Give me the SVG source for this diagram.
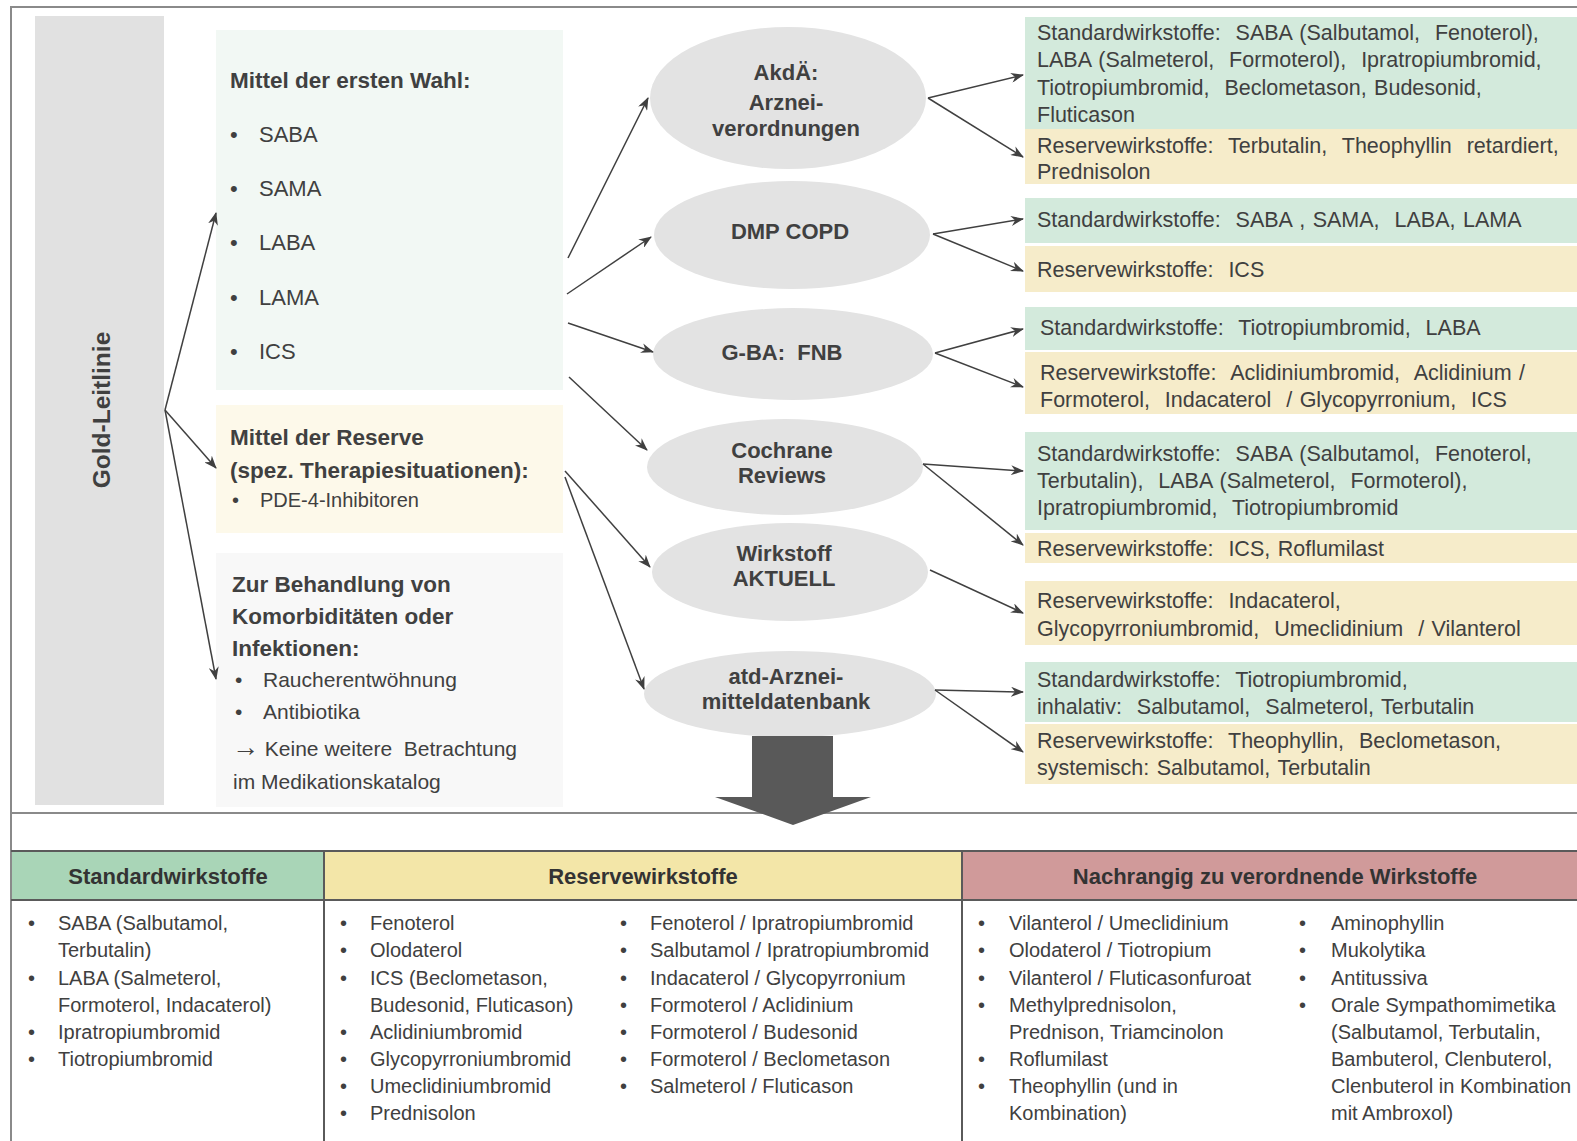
<svg xmlns="http://www.w3.org/2000/svg" width="1577" height="1141" viewBox="0 0 1577 1141">
<style>
text{font-family:"Liberation Sans",Arial,sans-serif;fill:#404040;white-space:pre}
.b{font-weight:bold}
.h22{font-size:22.5px;font-weight:bold}
.e{font-size:22px;font-weight:bold;text-anchor:middle}
.r{font-size:21.5px;word-spacing:1.5px}
.t{font-size:20px}
.hd{font-size:22px;font-weight:bold;text-anchor:middle;fill:#333}
.con{stroke:#404040;stroke-width:1.5;fill:none;marker-end:url(#ah)}
.frame{stroke:#8a8a8a;stroke-width:2;fill:none}
.tl{stroke:#5a5a5a;stroke-width:2;fill:none}
.ell{fill:#e3e3e3}
.gr{fill:#d3eadc}
.ye{fill:#f6ecca}
</style>
<defs>
<marker id="ah" markerWidth="13" markerHeight="10" refX="12" refY="5" orient="auto" markerUnits="userSpaceOnUse">
<path d="M0,0 L13,5 L0,10 L4,5 z" fill="#404040"/>
</marker>
</defs>
<rect width="1577" height="1141" fill="#ffffff"/>
<g id="frame">
<path class="frame" d="M1577,7 L11,7 L11,1141"/>
<path class="frame" d="M11,813 L1577,813"/>
</g>
<g id="gold-leitlinie">
<rect x="35" y="16" width="129" height="789" fill="#e1e1e1"/>
<text class="b" font-size="24.5" text-anchor="middle" transform="translate(110,410) rotate(-90)">Gold-Leitlinie</text>
</g>
<g id="erste-wahl">
<rect x="216" y="30" width="347" height="360" fill="#f2f8f4"/>
<text class="h22" x="230" y="88">Mittel der ersten Wahl:</text>
<g font-size="22">
<text x="230" y="142">•</text><text x="259" y="142">SABA</text>
<text x="230" y="196">•</text><text x="259" y="196">SAMA</text>
<text x="230" y="250">•</text><text x="259" y="250">LABA</text>
<text x="230" y="305">•</text><text x="259" y="305">LAMA</text>
<text x="230" y="359">•</text><text x="259" y="359">ICS</text>
</g>
</g>
<g id="reserve">
<rect x="216" y="405" width="347" height="128" fill="#fdf9ea"/>
<text class="h22" x="230" y="445">Mittel der Reserve</text>
<text class="h22" x="230" y="478">(spez. Therapiesituationen):</text>
<text class="t" x="232" y="507">•</text><text class="t" x="260" y="507">PDE-4-Inhibitoren</text>
</g>
<g id="komorbiditaeten">
<rect x="216" y="553" width="347" height="254" fill="#f8f8f8"/>
<text class="h22" x="232" y="592">Zur Behandlung von</text>
<text class="h22" x="232" y="624">Komorbiditäten oder</text>
<text class="h22" x="232" y="656">Infektionen:</text>
<text font-size="21" x="235" y="687">•</text><text font-size="21" x="263" y="687">Raucherentwöhnung</text>
<text font-size="21" x="235" y="719">•</text><text font-size="21" x="263" y="719">Antibiotika</text>
<text font-size="21" x="232" y="756"><tspan font-size="27">→</tspan> Keine weitere  Betrachtung</text>
<text font-size="21" x="233" y="789">im Medikationskatalog</text>
</g>
<g id="akdae">
<ellipse class="ell" cx="788" cy="98" rx="138" ry="71"/>
<text class="e" x="786" y="80">AkdÄ:</text>
<text class="e" x="786" y="110">Arznei-</text>
<text class="e" x="786" y="136">verordnungen</text>
</g>
<g id="dmp">
<ellipse class="ell" cx="792" cy="235" rx="138" ry="54"/>
<text class="e" x="790" y="239">DMP COPD</text>
</g>
<g id="gba">
<ellipse class="ell" cx="793" cy="354" rx="140" ry="46"/>
<text class="e" x="782" y="360">G-BA:  FNB</text>
</g>
<g id="cochrane">
<ellipse class="ell" cx="785" cy="467" rx="138" ry="48"/>
<text class="e" x="782" y="458">Cochrane</text>
<text class="e" x="782" y="483">Reviews</text>
</g>
<g id="wirkstoff">
<ellipse class="ell" cx="790" cy="572" rx="138" ry="49"/>
<text class="e" x="784" y="561">Wirkstoff</text>
<text class="e" x="784" y="586">AKTUELL</text>
</g>
<g id="atd">
<ellipse class="ell" cx="790" cy="694" rx="146" ry="43"/>
<text class="e" x="786" y="684">atd-Arznei-</text>
<text class="e" x="786" y="709">mitteldatenbank</text>
</g>
<g id="akdae-std">
<rect class="gr" x="1025" y="17" width="552" height="112"/>
<text class="r" x="1037" y="40">Standardwirkstoffe:  SABA (Salbutamol,  Fenoterol),</text>
<text class="r" x="1037" y="67">LABA (Salmeterol,  Formoterol),  Ipratropiumbromid,</text>
<text class="r" x="1037" y="95">Tiotropiumbromid,  Beclometason, Budesonid,</text>
<text class="r" x="1037" y="122">Fluticason</text>
</g>
<g id="akdae-res">
<rect class="ye" x="1025" y="129" width="552" height="55"/>
<text class="r" x="1037" y="153">Reservewirkstoffe:  Terbutalin,  Theophyllin  retardiert,</text>
<text class="r" x="1037" y="179">Prednisolon</text>
</g>
<g id="dmp-std">
<rect class="gr" x="1025" y="198" width="552" height="45"/>
<text class="r" x="1037" y="227">Standardwirkstoffe:  SABA , SAMA,  LABA, LAMA</text>
</g>
<g id="dmp-res">
<rect class="ye" x="1025" y="246" width="552" height="46"/>
<text class="r" x="1037" y="277">Reservewirkstoffe:  ICS</text>
</g>
<g id="gba-std">
<rect class="gr" x="1025" y="307" width="552" height="43"/>
<text class="r" x="1040" y="335">Standardwirkstoffe:  Tiotropiumbromid,  LABA</text>
</g>
<g id="gba-res">
<rect class="ye" x="1025" y="352" width="552" height="62"/>
<text class="r" x="1040" y="380">Reservewirkstoffe:  Aclidiniumbromid,  Aclidinium /</text>
<text class="r" x="1040" y="407">Formoterol,  Indacaterol  / Glycopyrronium,  ICS</text>
</g>
<g id="cochrane-std">
<rect class="gr" x="1025" y="432" width="552" height="98"/>
<text class="r" x="1037" y="461">Standardwirkstoffe:  SABA (Salbutamol,  Fenoterol,</text>
<text class="r" x="1037" y="488">Terbutalin),  LABA (Salmeterol,  Formoterol),</text>
<text class="r" x="1037" y="515">Ipratropiumbromid,  Tiotropiumbromid</text>
</g>
<g id="cochrane-res">
<rect class="ye" x="1025" y="533" width="552" height="30"/>
<text class="r" x="1037" y="556">Reservewirkstoffe:  ICS, Roflumilast</text>
</g>
<g id="wirkstoff-res">
<rect class="ye" x="1025" y="581" width="552" height="64"/>
<text class="r" x="1037" y="608">Reservewirkstoffe:  Indacaterol,</text>
<text class="r" x="1037" y="636">Glycopyrroniumbromid,  Umeclidinium  / Vilanterol</text>
</g>
<g id="atd-std">
<rect class="gr" x="1025" y="662" width="552" height="60"/>
<text class="r" x="1037" y="687">Standardwirkstoffe:  Tiotropiumbromid,</text>
<text class="r" x="1037" y="714">inhalativ:  Salbutamol,  Salmeterol, Terbutalin</text>
</g>
<g id="atd-res">
<rect class="ye" x="1025" y="724" width="552" height="60"/>
<text class="r" x="1037" y="748">Reservewirkstoffe:  Theophyllin,  Beclometason,</text>
<text class="r" x="1037" y="775">systemisch: Salbutamol, Terbutalin</text>
</g>
<g id="connectors">
<path class="con" d="M165,410 L216,213"/>
<path class="con" d="M165,410 L216,468"/>
<path class="con" d="M165,410 L216,679"/>
<path class="con" d="M568,258 L648,98"/>
<path class="con" d="M567,294 L651,237"/>
<path class="con" d="M568,323 L653,352"/>
<path class="con" d="M569,377 L647,450"/>
<path class="con" d="M565,471 L650,567"/>
<path class="con" d="M565,477 L644,689"/>
<path class="con" d="M928,98 L1023,75"/>
<path class="con" d="M928,98 L1023,157"/>
<path class="con" d="M933,234 L1023,219"/>
<path class="con" d="M933,234 L1023,271"/>
<path class="con" d="M935,353 L1023,329"/>
<path class="con" d="M935,353 L1023,387"/>
<path class="con" d="M923,464 L1023,471"/>
<path class="con" d="M923,464 L1023,545"/>
<path class="con" d="M930,570 L1023,613"/>
<path class="con" d="M935,690 L1023,692"/>
<path class="con" d="M935,690 L1023,752"/>
</g>
<g id="big-arrow">
<path d="M752,736 L833,736 L833,797 L871,797 L793,825 L715,797 L752,797 z" fill="#595959"/>
</g>
<g id="table">
<rect x="12" y="851" width="312" height="49" fill="#a9d5b7"/>
<rect x="324" y="851" width="638" height="49" fill="#f3e6a8"/>
<rect x="962" y="851" width="615" height="49" fill="#d09a9a"/>
<path class="tl" d="M11,851 L1577,851 M11,900 L1577,900 M324,851 L324,1141 M962,851 L962,1141"/>
<text class="hd" x="168" y="884">Standardwirkstoffe</text>
<text class="hd" x="643" y="884">Reservewirkstoffe</text>
<text class="hd" x="1275" y="884">Nachrangig zu verordnende Wirkstoffe</text>
</g>
<g id="col-standard">
<text class="t" x="28" y="930">•</text><text class="t" x="58" y="930">SABA (Salbutamol,</text>
<text class="t" x="58" y="957">Terbutalin)</text>
<text class="t" x="28" y="985">•</text><text class="t" x="58" y="985">LABA (Salmeterol,</text>
<text class="t" x="58" y="1012">Formoterol, Indacaterol)</text>
<text class="t" x="28" y="1039">•</text><text class="t" x="58" y="1039">Ipratropiumbromid</text>
<text class="t" x="28" y="1066">•</text><text class="t" x="58" y="1066">Tiotropiumbromid</text>
</g>
<g id="col-reserve">
<text class="t" x="340" y="930">•</text><text class="t" x="370" y="930">Fenoterol</text>
<text class="t" x="340" y="957">•</text><text class="t" x="370" y="957">Olodaterol</text>
<text class="t" x="340" y="985">•</text><text class="t" x="370" y="985">ICS (Beclometason,</text>
<text class="t" x="370" y="1012">Budesonid, Fluticason)</text>
<text class="t" x="340" y="1039">•</text><text class="t" x="370" y="1039">Aclidiniumbromid</text>
<text class="t" x="340" y="1066">•</text><text class="t" x="370" y="1066">Glycopyrroniumbromid</text>
<text class="t" x="340" y="1093">•</text><text class="t" x="370" y="1093">Umeclidiniumbromid</text>
<text class="t" x="340" y="1120">•</text><text class="t" x="370" y="1120">Prednisolon</text>
<text class="t" x="620" y="930">•</text><text class="t" x="650" y="930">Fenoterol / Ipratropiumbromid</text>
<text class="t" x="620" y="957">•</text><text class="t" x="650" y="957">Salbutamol / Ipratropiumbromid</text>
<text class="t" x="620" y="985">•</text><text class="t" x="650" y="985">Indacaterol / Glycopyrronium</text>
<text class="t" x="620" y="1012">•</text><text class="t" x="650" y="1012">Formoterol / Aclidinium</text>
<text class="t" x="620" y="1039">•</text><text class="t" x="650" y="1039">Formoterol / Budesonid</text>
<text class="t" x="620" y="1066">•</text><text class="t" x="650" y="1066">Formoterol / Beclometason</text>
<text class="t" x="620" y="1093">•</text><text class="t" x="650" y="1093">Salmeterol / Fluticason</text>
</g>
<g id="col-nachrangig">
<text class="t" x="978" y="930">•</text><text class="t" x="1009" y="930">Vilanterol / Umeclidinium</text>
<text class="t" x="978" y="957">•</text><text class="t" x="1009" y="957">Olodaterol / Tiotropium</text>
<text class="t" x="978" y="985">•</text><text class="t" x="1009" y="985">Vilanterol / Fluticasonfuroat</text>
<text class="t" x="978" y="1012">•</text><text class="t" x="1009" y="1012">Methylprednisolon,</text>
<text class="t" x="1009" y="1039">Prednison, Triamcinolon</text>
<text class="t" x="978" y="1066">•</text><text class="t" x="1009" y="1066">Roflumilast</text>
<text class="t" x="978" y="1093">•</text><text class="t" x="1009" y="1093">Theophyllin (und in</text>
<text class="t" x="1009" y="1120">Kombination)</text>
<text class="t" x="1299" y="930">•</text><text class="t" x="1331" y="930">Aminophyllin</text>
<text class="t" x="1299" y="957">•</text><text class="t" x="1331" y="957">Mukolytika</text>
<text class="t" x="1299" y="985">•</text><text class="t" x="1331" y="985">Antitussiva</text>
<text class="t" x="1299" y="1012">•</text><text class="t" x="1331" y="1012">Orale Sympathomimetika</text>
<text class="t" x="1331" y="1039">(Salbutamol, Terbutalin,</text>
<text class="t" x="1331" y="1066">Bambuterol, Clenbuterol,</text>
<text class="t" x="1331" y="1093">Clenbuterol in Kombination</text>
<text class="t" x="1331" y="1120">mit Ambroxol)</text>
</g>
</svg>
